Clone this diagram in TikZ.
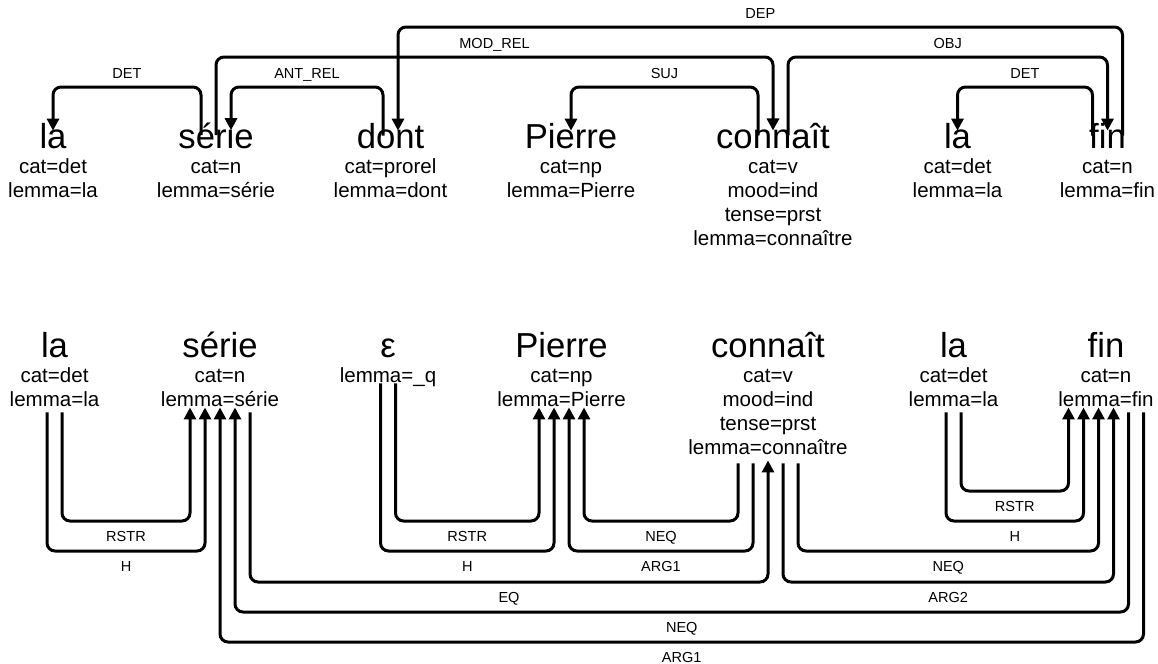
\documentclass[tikz,border=0pt]{standalone}
\usepackage{fontspec}
\setmainfont{Liberation Sans}
\usetikzlibrary{arrows.meta}

% mot en grand, traits en dessous
\newcommand{\lexeme}[2]{\begin{tabular}[t]{@{}c@{}}{\fontsize{26}{26}\selectfont #1}\\[0.75pt]#2\end{tabular}}

\begin{document}
\begin{tikzpicture}[x=0.75pt, y=-0.75pt,
        lex/.style={inner sep=0pt, anchor=base, font=\fontsize{15.4}{18}\selectfont},
        lien/.style={line width=2.25pt, rounded corners=6pt, -{Triangle[width=9pt,length=9pt]}},
        haut/.style={lien, shorten <=-9.75pt, shorten >=-6pt},
        bas/.style={lien, shorten <=-0.75pt, shorten >=-4.5pt},
        etiq/.style={font=\fontsize{10.9}{13}\selectfont, inner sep=0pt, text depth=0pt},
        dessus/.style={etiq, above=5.25pt},
        dessous/.style={etiq, below=6.75pt}]
        \useasboundingbox (0,0) rectangle (1158,664);
        % Analyse en dépendances
        \node[lex] (tla1) at (53,148) {\lexeme{la}{cat=det\\lemma=la}};
        \node[lex] (tserie) at (216,148) {\lexeme{série}{cat=n\\lemma=série}};
        \node[lex] (tdont) at (390.5,148) {\lexeme{dont}{cat=prorel\\lemma=dont}};
        \node[lex] (tpierre) at (571,148) {\lexeme{Pierre}{cat=np\\lemma=Pierre}};
        \node[lex] (tconnait) at (773,148) {\lexeme{connaît}{cat=v\\mood=ind\\tense=prst\\lemma=connaître}};
        \node[lex] (tla2) at (957.5,148) {\lexeme{la}{cat=det\\lemma=la}};
        \node[lex] (tfin) at (1107.5,148) {\lexeme{fin}{cat=n\\lemma=fin}};
        % Niveaux des arcs
        \coordinate (n1) at (0,87);
        \coordinate (n2) at (0,57);
        \coordinate (n3) at (0,27);
        % Arcs de dépendance
        \draw[haut] ([xshift=-11.25pt]tserie.north) |- (tla1.north |- n1) node[dessus, pos=0.75] {DET} -- (tla1.north);
        \draw[haut] ([xshift=-5.625pt]tdont.north) |- ([xshift=11.25pt]tserie.north |- n1) node[dessus, pos=0.75] {ANT\_REL} -- ([xshift=11.25pt]tserie.north);
        \draw[haut] (tserie.north) |- (tconnait.north |- n2) node[dessus, pos=0.75] {MOD\_REL} -- (tconnait.north);
        \draw[haut] ([xshift=11.25pt]tfin.north) |- ([xshift=5.625pt]tdont.north |- n3) node[dessus, pos=0.75] {DEP} -- ([xshift=5.625pt]tdont.north);
        \draw[haut] ([xshift=-11.25pt]tconnait.north) |- (tpierre.north |- n1) node[dessus, pos=0.75] {SUJ} -- (tpierre.north);
        \draw[haut] ([xshift=11.25pt]tconnait.north) |- (tfin.north |- n2) node[dessus, pos=0.75] {OBJ} -- (tfin.north);
        \draw[haut] ([xshift=-11.25pt]tfin.north) |- (tla2.north |- n1) node[dessus, pos=0.75] {DET} -- (tla2.north);

        % Graphe sémantique
        \node[lex] (bla1) at (54.5,357) {\lexeme{la}{cat=det\\lemma=la}};
        \node[lex] (bserie) at (220,357) {\lexeme{série}{cat=n\\lemma=série}};
        \node[lex] (beps) at (388,357) {\lexeme{ε}{lemma=\_q}};
        \node[lex] (bpierre) at (561.5,357) {\lexeme{Pierre}{cat=np\\lemma=Pierre}};
        \node[lex] (bconnait) at (768,357) {\lexeme{connaît}{cat=v\\mood=ind\\tense=prst\\lemma=connaître}};
        \node[lex] (bla2) at (953.5,357) {\lexeme{la}{cat=det\\lemma=la}};
        \node[lex] (bfin) at (1106,357) {\lexeme{fin}{cat=n\\lemma=fin}};
        % Niveaux des arcs
        \coordinate (m1) at (0,491);
        \coordinate (m2) at (0,521);
        \coordinate (m3) at (0,551);
        \coordinate (m4) at (0,582);
        \coordinate (m5) at (0,612);
        \coordinate (m6) at (0,642);
        % Arcs sémantiques
        \draw[bas] ([xshift=5.625pt]bla1.south) |- ([xshift=-22.5pt]bserie.south |- m2) node[dessous, pos=0.75] {RSTR} -- ([xshift=-22.5pt]bserie.south);
        \draw[bas] ([xshift=-5.625pt]bla1.south) |- ([xshift=-11.25pt]bserie.south |- m3) node[dessous, pos=0.75] {H} -- ([xshift=-11.25pt]bserie.south);
        \draw[bas, shorten >=-0.75pt] ([xshift=22.5pt]bserie.south) |- (bconnait.south |- m4) node[dessous, pos=0.75] {EQ} -- (bconnait.south);
        \draw[bas] ([xshift=16.875pt]bfin.south) |- ([xshift=11.25pt]bserie.south |- m5) node[dessous, pos=0.75] {NEQ} -- ([xshift=11.25pt]bserie.south);
        \draw[bas] ([xshift=28.125pt]bfin.south) |- (bserie.south |- m6) node[dessous, pos=0.75] {ARG1} -- (bserie.south);
        \draw[bas, shorten <=-4.5pt] ([xshift=5.625pt]beps.south) |- ([xshift=-16.875pt]bpierre.south |- m2) node[dessous, pos=0.75] {RSTR} -- ([xshift=-16.875pt]bpierre.south);
        \draw[bas, shorten <=-4.5pt] ([xshift=-5.625pt]beps.south) |- ([xshift=-5.625pt]bpierre.south |- m3) node[dessous, pos=0.75] {H} -- ([xshift=-5.625pt]bpierre.south);
        \draw[bas, shorten <=1.5pt] ([xshift=-22.5pt]bconnait.south) |- ([xshift=16.875pt]bpierre.south |- m2) node[dessous, pos=0.75] {NEQ} -- ([xshift=16.875pt]bpierre.south);
        \draw[bas, shorten <=1.5pt] ([xshift=-11.25pt]bconnait.south) |- ([xshift=5.625pt]bpierre.south |- m3) node[dessous, pos=0.75] {ARG1} -- ([xshift=5.625pt]bpierre.south);
        \draw[bas, shorten <=1.5pt] ([xshift=22.5pt]bconnait.south) |- ([xshift=-5.625pt]bfin.south |- m3) node[dessous, pos=0.75] {NEQ} -- ([xshift=-5.625pt]bfin.south);
        \draw[bas, shorten <=1.5pt] ([xshift=11.25pt]bconnait.south) |- ([xshift=5.625pt]bfin.south |- m4) node[dessous, pos=0.75] {ARG2} -- ([xshift=5.625pt]bfin.south);
        \draw[bas] ([xshift=5.625pt]bla2.south) |- ([xshift=-28.125pt]bfin.south |- m1) node[dessous, pos=0.75] {RSTR} -- ([xshift=-28.125pt]bfin.south);
        \draw[bas] ([xshift=-5.625pt]bla2.south) |- ([xshift=-16.875pt]bfin.south |- m2) node[dessous, pos=0.75] {H} -- ([xshift=-16.875pt]bfin.south);
    \end{tikzpicture}
\end{document}
